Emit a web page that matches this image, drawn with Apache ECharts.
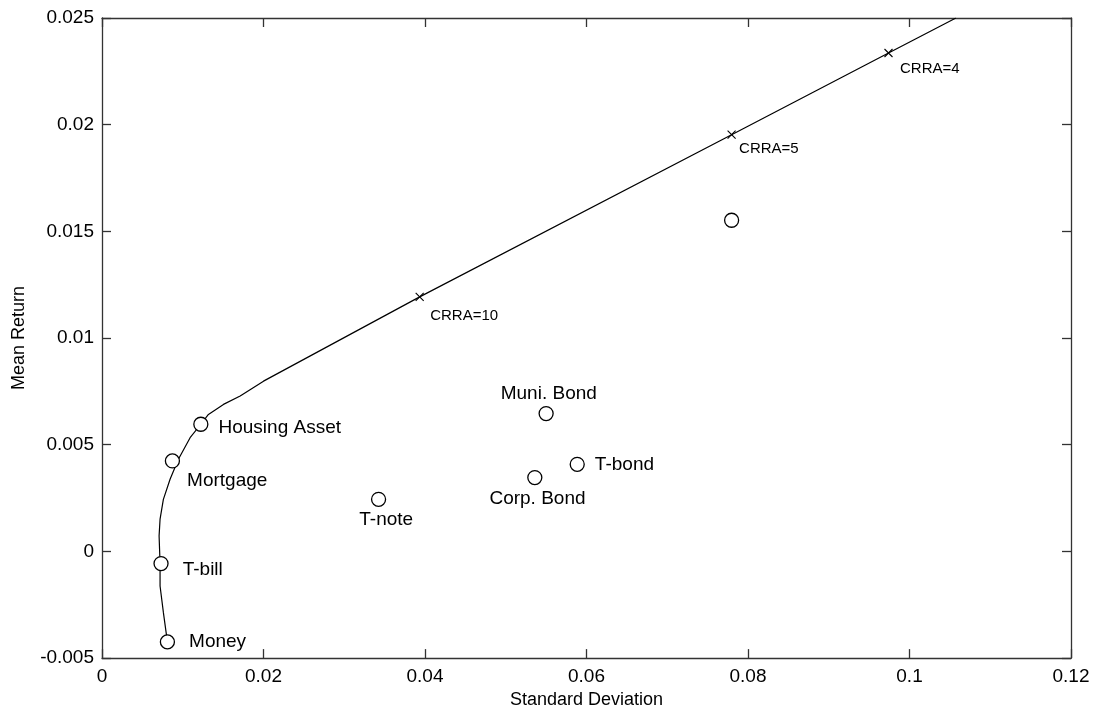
<!DOCTYPE html>
<html>
<head>
<meta charset="utf-8">
<script src="https://cdn.jsdelivr.net/npm/echarts@6/dist/echarts.min.js"></script>
<style>
html,body{margin:0;padding:0;background:#fff;}
#chart{width:1093px;height:714px;}
</style>
</head>
<body>
<div id="chart"></div>
<script>
// ---- data ----
var assetNames = ['Housing Asset', 'Mortgage', 'T-bill', 'Money', 'Muni. Bond', 'T-bond', 'Corp. Bond', 'T-note', ''];
var assetStd   = [0.01224, 0.00872, 0.00731, 0.0081, 0.0550, 0.05885, 0.0536, 0.03425, 0.07797];
var assetMean  = [0.00596, 0.00424, -0.00057, -0.00424, 0.00646, 0.00408, 0.00346, 0.00244, 0.01552];

var frontierStd  = [0.0081, 0.0076, 0.00719, 0.00719, 0.00707, 0.00719, 0.0076, 0.00843, 0.00946, 0.01091, 0.01224, 0.01318, 0.01504, 0.01711, 0.0200, 0.03934, 0.07797, 0.0974, 0.10575];
var frontierMean = [-0.00424, -0.00286, -0.00162, -0.00057, 0.00073, 0.00151, 0.00244, 0.00338, 0.00432, 0.00533, 0.00596, 0.00642, 0.00689, 0.00728, 0.00798, 0.01193, 0.01953, 0.02336, 0.025];

var crraNames = ['CRRA=10', 'CRRA=5', 'CRRA=4'];
var crraStd   = [0.03934, 0.07797, 0.0974];
var crraMean  = [0.01193, 0.01953, 0.02336];

var xTickLabels = ['0', '0.02', '0.04', '0.06', '0.08', '0.1', '0.12'];
var yTickLabels = ['-0.005', '0', '0.005', '0.01', '0.015', '0.02', '0.025'];

// ---- label layout (style only): offsets from marker centre ----
var assetLabelLayout = [
  {align:'left', off:[17,4]},
  {align:'left', off:[14,20]},
  {align:'left', off:[21,6]},
  {align:'left', off:[21,0]},
  {align:'center', off:[2,-20]},
  {align:'left', off:[17,0]},
  {align:'center', off:[2,21]},
  {align:'center', off:[7,20]},
  null
];
var crraLabelLayout = [
  {align:'left', off:[8,19]},
  {align:'left', off:[5,14]},
  {align:'left', off:[9,16]}
];

var TXT = '#000';
var AX = '#333';
var FONT = 'Arial, "Liberation Sans", sans-serif';
var ASSET_SYM = 14, CRRA_SYM = 8;

function mkLabel(text, lay, size, r){
  return {show:true, formatter:text, position:'right', distance:0, align:lay.align, verticalAlign:'middle',
    offset:[lay.off[0]-r, lay.off[1]], color:TXT, fontSize:size, fontFamily:FONT};
}

var assetData = assetStd.map(function(x, i){
  var lay = assetLabelLayout[i];
  var d = {value:[x, assetMean[i]], name: assetNames[i]};
  d.label = lay ? mkLabel(assetNames[i], lay, 19, ASSET_SYM/2) : {show:false};
  return d;
});
var crraData = crraStd.map(function(x, i){
  return {value:[x, crraMean[i]], name: crraNames[i], label: mkLabel(crraNames[i], crraLabelLayout[i], 15, CRRA_SYM/2)};
});
var frontierData = frontierStd.map(function(x, i){ return [x, frontierMean[i]]; });

function xFmt(v){ var i = Math.round(v/0.02); return xTickLabels[i] !== undefined ? xTickLabels[i] : ''; }
function yFmt(v){ var i = Math.round((v+0.005)/0.005); return yTickLabels[i] !== undefined ? yTickLabels[i] : ''; }

var baseAxis = {
  axisLine:{show:true, onZero:false, lineStyle:{color:AX, width:1.3}},
  axisTick:{show:true, inside:true, length:9, lineStyle:{color:AX, width:1.3}},
  splitLine:{show:false}
};

var chart = echarts.init(document.getElementById('chart'), null, {renderer:'canvas'});
chart.setOption({
  animation:false,
  backgroundColor:'#fff',
  textStyle:{fontFamily:FONT},
  grid:{left:102, right:22, top:18, bottom:55},
  xAxis:[
    Object.assign({}, baseAxis, {type:'value', min:0, max:0.12, interval:0.02, position:'bottom',
      name:'Standard Deviation', nameLocation:'middle', nameGap:31,
      nameTextStyle:{color:TXT, fontSize:18, fontFamily:FONT},
      axisLabel:{show:true, formatter:xFmt, color:TXT, fontSize:19, margin:9, fontFamily:FONT}}),
    Object.assign({}, baseAxis, {type:'value', min:0, max:0.12, interval:0.02, position:'top',
      axisLabel:{show:false}})
  ],
  yAxis:[
    Object.assign({}, baseAxis, {type:'value', min:-0.005, max:0.025, interval:0.005, position:'left',
      name:'Mean Return', nameLocation:'middle', nameGap:74,
      nameTextStyle:{color:TXT, fontSize:18, fontFamily:FONT},
      axisLabel:{show:true, formatter:yFmt, color:TXT, fontSize:19, margin:8, fontFamily:FONT}}),
    Object.assign({}, baseAxis, {type:'value', min:-0.005, max:0.025, interval:0.005, position:'right',
      axisLabel:{show:false}})
  ],
  series:[
    {type:'line', data:frontierData, xAxisIndex:0, yAxisIndex:0, showSymbol:false, symbol:'none',
      lineStyle:{color:'#000', width:1.2}, silent:true, z:2},
    {type:'scatter', data:assetData, xAxisIndex:0, yAxisIndex:0, symbol:'circle', symbolSize:ASSET_SYM,
      itemStyle:{color:'#fff', borderColor:'#000', borderWidth:1.3, opacity:1}, z:3},
    {type:'scatter', data:crraData, xAxisIndex:0, yAxisIndex:0,
      symbol:'path://M0,0L10,10M10,0L0,10', symbolSize:CRRA_SYM,
      itemStyle:{color:'none', borderColor:'#000', borderWidth:1.1, opacity:1}, z:4}
  ]
});
</script>
</body>
</html>
